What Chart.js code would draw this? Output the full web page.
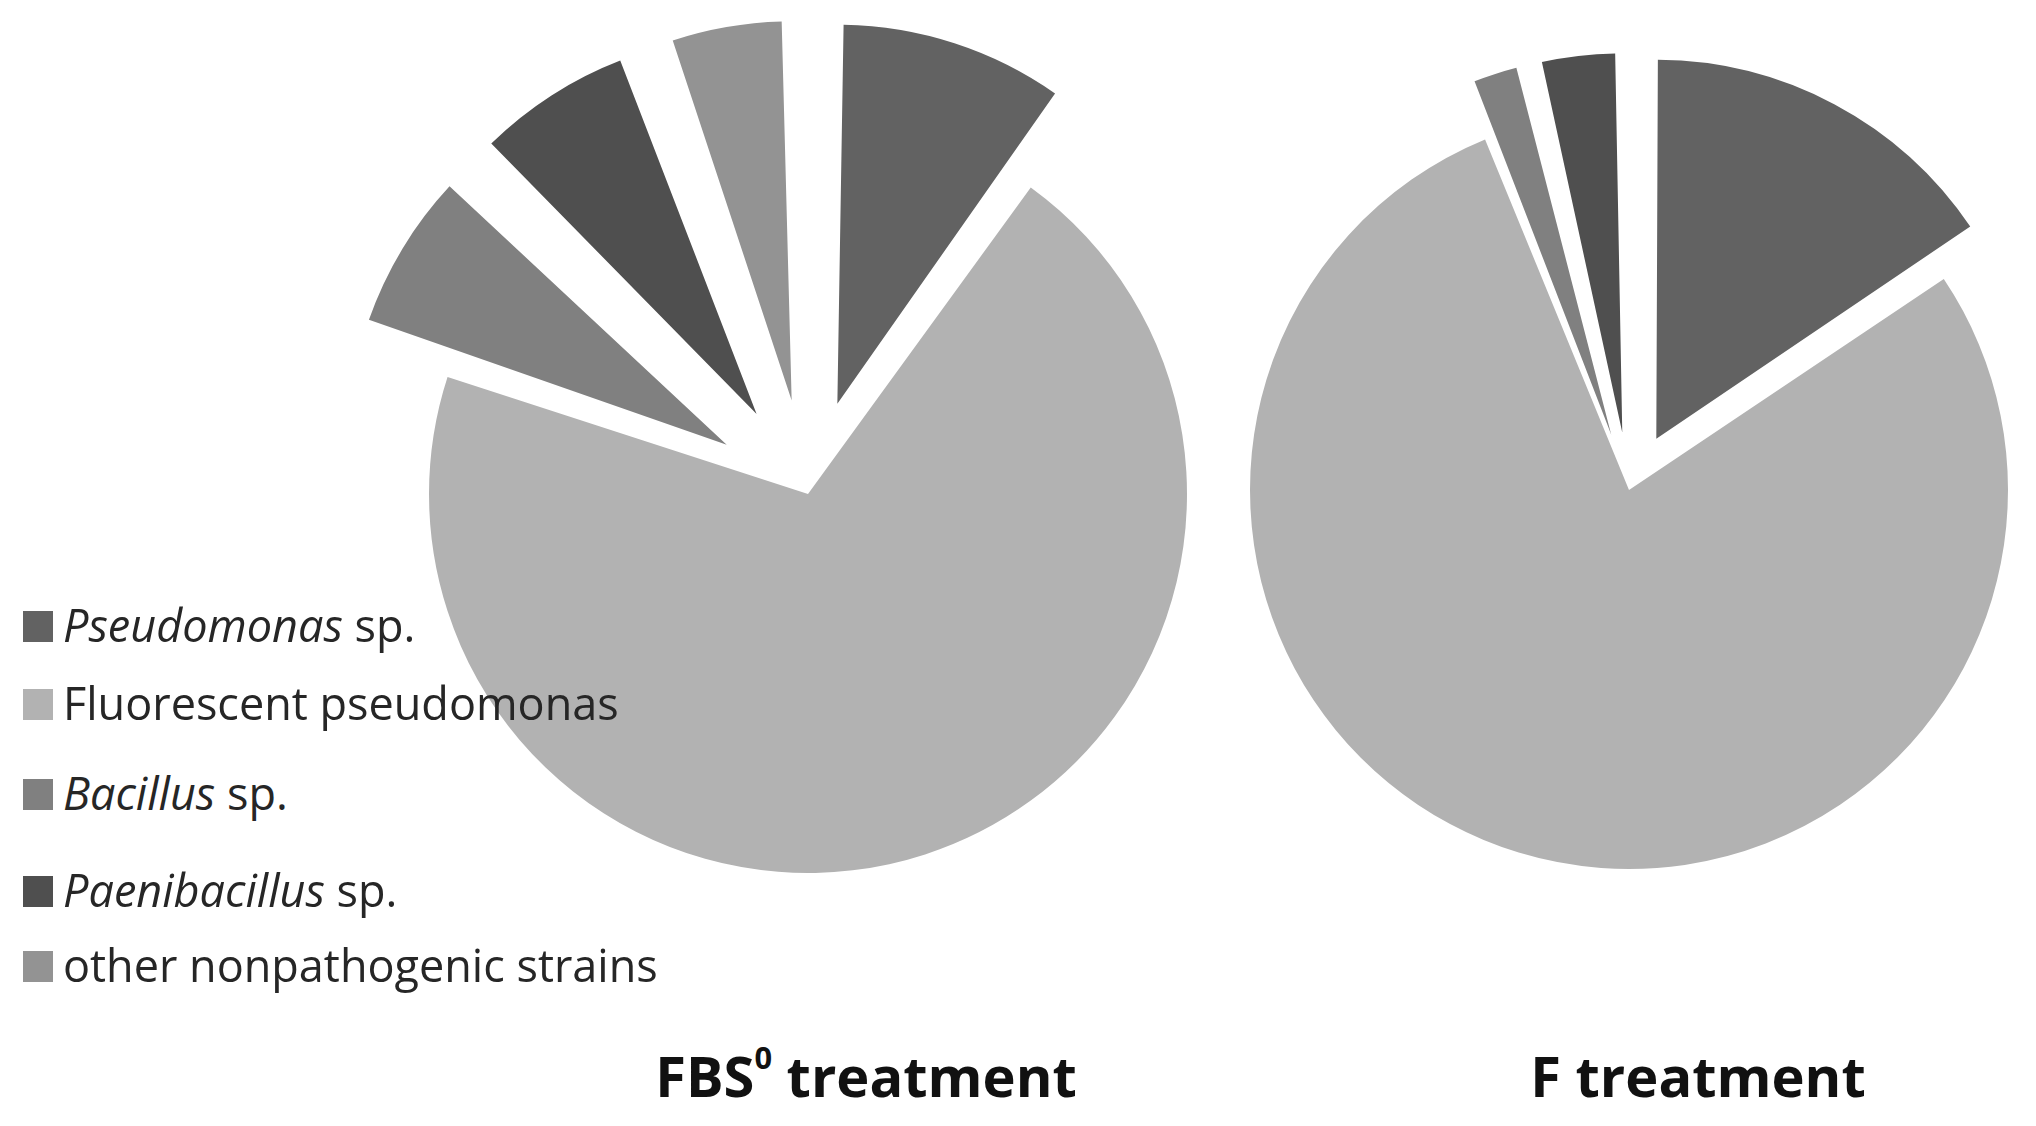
<!DOCTYPE html>
<html>
<head>
<meta charset="utf-8">
<title>Bacterial strains by treatment</title>
<script src="https://cdn.jsdelivr.net/npm/chart.js@4.4.1/dist/chart.umd.min.js"></script>
<style>
  html, body { margin: 0; padding: 0; background: #fff; }
  body { width: 2036px; height: 1126px; position: relative; overflow: hidden; font-family: "Open Sans", "Noto Sans", sans-serif; }
  canvas { position: absolute; top: 0; }
  #pieFBS { left: 308px; }
  #pieF { left: 1222px; }
  .legend-box { position: absolute; left: 23px; width: 30px; height: 31px; }
  .legend-text { position: absolute; left: 63px; font-size: 45px; line-height: 1; color: #262626; white-space: nowrap; }
  .title { position: absolute; font-size: 56px; line-height: 1; font-weight: 700; color: #111; white-space: nowrap; transform: translateX(-50%); }
  .title sup { font-size: 0.55em; position: relative; top: -0.15em; vertical-align: top; }
</style>
</head>
<body>
<canvas id="pieFBS" width="1000" height="988"></canvas>
<canvas id="pieF" width="814" height="980"></canvas>
<div id="legend"></div>
<div class="title" style="left:866px; top:1047px;">FBS<sup>0</sup> treatment</div>
<div class="title" style="left:1698px; top:1047px;">F treatment</div>

<script>
// ---- data ----
const strainLabels = [
  "Pseudomonas sp.",
  "Fluorescent pseudomonas",
  "Bacillus sp.",
  "Paenibacillus sp.",
  "other nonpathogenic strains",
];
const fbs0Values = [10, 70, 7.3, 7.2, 5.5];   // % of isolates, FBS0 treatment
const fValues = [15.6, 78.2, 2.5, 3.7, 0];    // % of isolates, F treatment
const strainColors = ["#626262", "#b2b2b2", "#808080", "#4f4f4f", "#939393"];

// exploded distance of each slice, in px
const fbs0Explode = [95, 0, 95, 95, 95];
const fExplode = [58, 0, 58, 58, 58];

const PIE_RADIUS = 379;
const legendBaselines = [642, 720, 810, 907, 982];

// Chart.js moves an arc by offset/4 and also grows its radius a bit;
// keep the exploded slices at the same radius as the rest of the pie
const keepRadius = {
  id: "keepRadius",
  beforeDatasetDraw(chart, args) {
    const meta = chart.getDatasetMeta(args.index);
    const R = meta.controller.outerRadius;
    meta.data.forEach(arc => {
      const off = (arc.options && arc.options.offset) || 0;
      const fix = 1 - Math.sin(Math.min(Math.PI, arc.circumference || 0));
      arc.outerRadius = R - (off / 4) * fix;
    });
  },
};

function buildPie(canvasId, values, explode) {
  return new Chart(document.getElementById(canvasId), {
    type: "pie",
    data: {
      labels: strainLabels,
      datasets: [{
        data: values,
        backgroundColor: strainColors,
        borderWidth: 0,
        offset: explode.map(d => d * 4),
      }],
    },
    options: {
      responsive: false,
      animation: false,
      radius: PIE_RADIUS,
      layout: { padding: 0 },
      plugins: { legend: { display: false }, tooltip: { enabled: false } },
      events: [],
    },
    plugins: [keepRadius],
  });
}

buildPie("pieFBS", fbs0Values, fbs0Explode);
buildPie("pieF", fValues, fExplode);

// ---- legend (genus names in italics) ----
const legend = document.getElementById("legend");
strainLabels.forEach((label, i) => {
  const base = legendBaselines[i];
  const box = document.createElement("div");
  box.className = "legend-box";
  box.style.top = (base - 31) + "px";
  box.style.background = strainColors[i];
  const txt = document.createElement("div");
  txt.className = "legend-text";
  txt.style.top = (base - 40) + "px";
  if (label.endsWith(" sp.")) {
    txt.innerHTML = `<i>${label.slice(0, -4)}</i> sp.`;
  } else {
    txt.textContent = label;
  }
  legend.appendChild(box);
  legend.appendChild(txt);
});
</script>
</body>
</html>
